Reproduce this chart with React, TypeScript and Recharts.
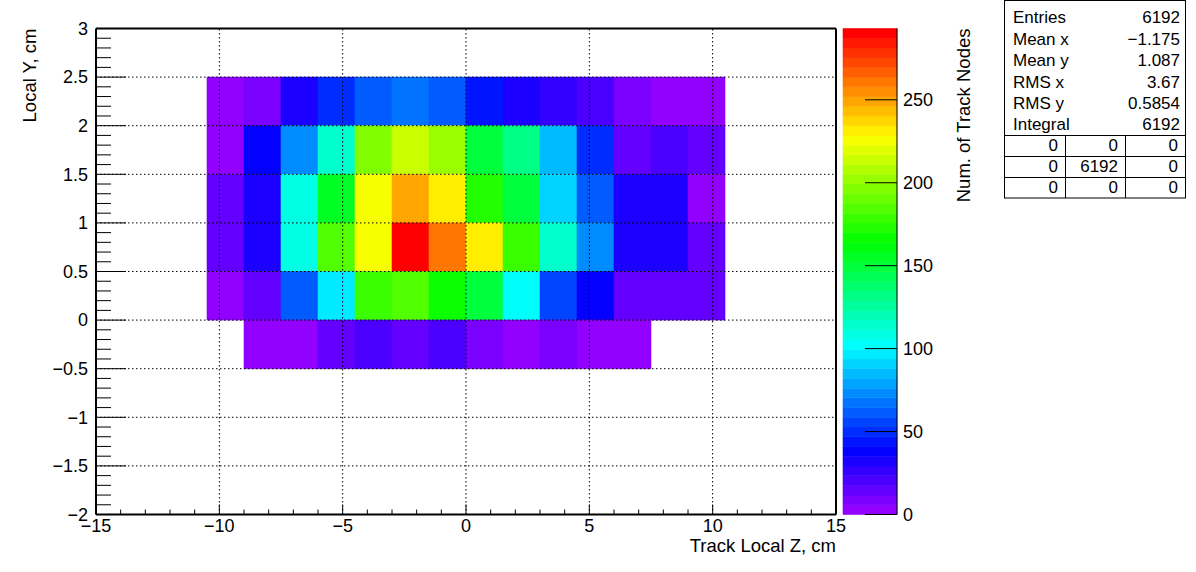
import React from 'react';
import { ComposedChart, XAxis, YAxis, ReferenceArea, ReferenceLine } from 'recharts';

const FONT = '"Liberation Sans", Arial, Helvetica, sans-serif';

// ---- histogram binning (Track Local Z vs Local Y) ----
const xBinLow = [-10.5, -9, -7.5, -6, -4.5, -3, -1.5, 0, 1.5, 3, 4.5, 6, 7.5, 9];
const xBinWidth = 1.5;
const yBinLow = [2, 1.5, 1, 0.5, 0, -0.5];
const yBinHeight = 0.5;

// ---- bin contents, one array per Local-Y row (null = empty bin) ----
const rowY2p0 = [3, 9, 32, 50, 62, 67, 62, 44, 32, 26, 21, 9, 3, 3];
const rowY1p5 = [3, 38, 73, 114, 197, 214, 202, 150, 132, 85, 50, 15, 21, 15];
const rowY1p0 = [15, 32, 109, 155, 226, 249, 232, 173, 150, 91, 62, 32, 32, 3];
const rowY0p5 = [15, 32, 109, 185, 226, 293, 261, 232, 179, 114, 73, 32, 32, 15];
const rowY0p0 = [3, 15, 62, 97, 179, 185, 167, 150, 103, 56, 38, 15, 15, 15];
const rowYm0p5 = [null, 3, 3, 15, 21, 15, 21, 9, 3, 9, 3, 3, null, null];
const rows = [rowY2p0, rowY1p5, rowY1p0, rowY0p5, rowY0p0, rowYm0p5];

// ---- axes ----
const xDomain = [-15, 15];
const yDomain = [-2, 3];
const xMajorTicks = [-15, -10, -5, 0, 5, 10, 15];
const yMajorTicks = [-2, -1.5, -1, -0.5, 0, 0.5, 1, 1.5, 2, 2.5, 3];
const zTicks = [0, 50, 100, 150, 200, 250];
const xMinorPerMajor = 5;
const yMinorPerMajor = 5;

// ---- stats box ----
const statLabels = ['Entries', 'Mean x', 'Mean y', 'RMS x', 'RMS y', 'Integral'];
const statValues = ['6192', '\u22121.175', '1.087', '3.67', '0.5854', '6192'];
const statTable = [
  ['0', '0', '0'],
  ['0', '6192', '0'],
  ['0', '0', '0'],
];

const xTitle = 'Track Local Z, cm';
const yTitle = 'Local Y, cm';
const zTitle = 'Num. of Track Nodes';

// ---- ROOT "pretty" palette (50 colours, hue 280 -> 0) ----
const NCOL = 50;
const paletteColor = (i: number) => `hsl(${280 - (i + 1) * (280 / NCOL)}, 100%, 50%)`;
const zMax = Math.max(...(rows.flat().filter((v) => v != null) as number[]));
const colorFor = (v: number) => paletteColor(Math.min(NCOL - 1, Math.floor(0.01 + (v / zMax) * NCOL)));

const subdivide = (majors: number[], n: number) => {
  const out: number[] = [];
  for (let i = 0; i < majors.length - 1; i++) {
    const a = majors[i];
    const b = majors[i + 1];
    for (let k = 0; k < n; k++) out.push(Math.round((a + ((b - a) * k) / n) * 1e6) / 1e6);
  }
  out.push(majors[majors.length - 1]);
  return out;
};
const xAllTicks = subdivide(xMajorTicks, xMinorPerMajor);
const yAllTicks = subdivide(yMajorTicks, yMinorPerMajor);

const isIn = (v: number, list: number[]) => list.some((m) => Math.abs(m - v) < 1e-6);
const fmt = (v: number) => String(Math.round(v * 100) / 100).replace('-', '\u2212');

const XTick = (props: any) => {
  const { x, y, payload } = props;
  const v = payload.value;
  const major = isIn(v, xMajorTicks);
  return (
    <g>
      <line x1={x} x2={x} y1={y} y2={y - (major ? 10 : 5)} stroke="#000" strokeWidth={1} />
      {major && (
        <text x={x} y={y + 17} textAnchor="middle" fontSize={18} fontFamily={FONT} fill="#000">
          {fmt(v)}
        </text>
      )}
    </g>
  );
};

const YTick = (props: any) => {
  const { x, y, payload } = props;
  const v = payload.value;
  const major = isIn(v, yMajorTicks);
  return (
    <g>
      <line x1={x} x2={x + (major ? 30 : 15)} y1={y} y2={y} stroke="#000" strokeWidth={1} />
      {major && (
        <text x={x - 8} y={y} dy="0.35em" textAnchor="end" fontSize={18} fontFamily={FONT} fill="#000">
          {fmt(v)}
        </text>
      )}
    </g>
  );
};

const ZTick = (props: any) => {
  const { x, y, payload } = props;
  return (
    <g>
      <line x1={x - 32} x2={x} y1={y} y2={y} stroke="#000" strokeWidth={1} />
      <text x={x + 6} y={y} dy="0.35em" textAnchor="start" fontSize={18} fontFamily={FONT} fill="#000">
        {fmt(payload.value)}
      </text>
    </g>
  );
};

const W = 1196;
const H = 572;
const PLOT_TOP = 28.5;
const PLOT_BOTTOM = 514.5;

export default function App() {
  const cells: React.ReactNode[] = [];
  rows.forEach((row, ri) =>
    row.forEach((v, ci) => {
      if (v == null || v <= 0) return;
      const c = colorFor(v);
      cells.push(
        <ReferenceArea
          key={`c-${ri}-${ci}`}
          x1={xBinLow[ci]}
          x2={xBinLow[ci] + xBinWidth}
          y1={yBinLow[ri]}
          y2={yBinLow[ri] + yBinHeight}
          fill={c}
          fillOpacity={1}
          stroke={c}
          strokeWidth={0.6}
        />
      );
    })
  );

  const bands: React.ReactNode[] = [];
  for (let k = 0; k < NCOL; k++) {
    const c = paletteColor(k);
    bands.push(
      <ReferenceArea
        key={`b-${k}`}
        x1={0}
        x2={1}
        y1={(k * zMax) / NCOL}
        y2={((k + 1) * zMax) / NCOL}
        fill={c}
        fillOpacity={1}
        stroke={c}
        strokeWidth={0.6}
        ifOverflow="visible"
      />
    );
  }

  const gridX = xMajorTicks.filter((v) => v > xDomain[0] && v < xDomain[1]);
  const gridY = yMajorTicks.filter((v) => v > yDomain[0] && v < yDomain[1]);

  const statRowH = 21.4;
  const boxL = 1004;
  const boxR = 1185;
  const tableTop = 135;
  const tableRowH = 21;
  const colEdges = [1004, 1065, 1125, 1185];
  const STAT_FS = 17;

  return (
    <div style={{ position: 'absolute', left: 0, top: 0, width: W, height: H, background: '#fff' }}>
      <div style={{ position: 'absolute', left: 0, top: 0 }}>
        <ComposedChart
          width={W}
          height={H}
          margin={{ top: PLOT_TOP, right: W - 836, bottom: H - PLOT_BOTTOM - 30, left: 96 - 60 }}
        >
          <XAxis
            type="number"
            dataKey="x"
            domain={xDomain}
            ticks={xAllTicks}
            interval={0}
            allowDataOverflow
            height={30}
            tickSize={0}
            tickMargin={0}
            tickLine={false}
            axisLine={{ stroke: '#000', strokeWidth: 2 }}
            tick={<XTick />}
          />
          <YAxis
            type="number"
            dataKey="y"
            domain={yDomain}
            ticks={yAllTicks}
            interval={0}
            allowDataOverflow
            width={60}
            tickSize={0}
            tickMargin={0}
            tickLine={false}
            axisLine={{ stroke: '#000', strokeWidth: 2 }}
            tick={<YTick />}
          />
          {cells}
          {gridX.map((v) => (
            <ReferenceLine key={`gx-${v}`} x={v} stroke="#000" strokeWidth={1} strokeDasharray="1.5 2.5" />
          ))}
          {gridY.map((v) => (
            <ReferenceLine key={`gy-${v}`} y={v} stroke="#000" strokeWidth={1} strokeDasharray="1.5 2.5" />
          ))}
          <ReferenceLine y={yDomain[1]} stroke="#000" strokeWidth={2} />
          <ReferenceLine x={xDomain[1]} stroke="#000" strokeWidth={2} />
        </ComposedChart>
      </div>
      <div style={{ position: 'absolute', left: 0, top: 0 }}>
        <ComposedChart
          width={W}
          height={H}
          margin={{ top: PLOT_TOP, right: W - 897 - 60, bottom: H - PLOT_BOTTOM - 30, left: 843 }}
        >
          <XAxis
            type="number"
            dataKey="u"
            domain={[0, 1]}
            ticks={[0, 1]}
            allowDataOverflow
            height={30}
            tick={false}
            axisLine={false}
            tickLine={false}
          />
          <YAxis
            type="number"
            dataKey="z"
            orientation="right"
            domain={[0, zMax]}
            ticks={zTicks}
            interval={0}
            allowDataOverflow
            width={60}
            tickSize={0}
            tickMargin={0}
            tickLine={false}
            axisLine={{ stroke: '#000', strokeWidth: 1 }}
            tick={<ZTick />}
          />
          {bands}
        </ComposedChart>
      </div>
      <svg
        width={W}
        height={H}
        style={{ position: 'absolute', left: 0, top: 0, pointerEvents: 'none' }}
        fontFamily={FONT}
      >
        <text x={836} y={552} textAnchor="end" fontSize={18.5} fill="#000">
          {xTitle}
        </text>
        <text transform={`translate(36, ${PLOT_TOP}) rotate(-90)`} textAnchor="end" fontSize={18.5} fill="#000">
          {yTitle}
        </text>
        <text transform={`translate(970, ${PLOT_TOP}) rotate(-90)`} textAnchor="end" fontSize={18.5} fill="#000">
          {zTitle}
        </text>
        <rect x={boxL + 0.5} y={0.5} width={boxR - boxL} height={tableTop + 3 * tableRowH - 0.5} fill="#fff" stroke="#000" strokeWidth={1} />
        {statLabels.map((l, i) => (
          <g key={`s-${i}`}>
            <text x={1013} y={17.5 + i * statRowH} dy="0.35em" fontSize={STAT_FS} fill="#000">
              {l}
            </text>
            <text x={1180} y={17.5 + i * statRowH} dy="0.35em" textAnchor="end" fontSize={STAT_FS} fill="#000">
              {statValues[i]}
            </text>
          </g>
        ))}
        {[0, 1, 2].map((r) => (
          <line key={`tl-${r}`} x1={boxL} x2={boxR} y1={tableTop + r * tableRowH + 0.5} y2={tableTop + r * tableRowH + 0.5} stroke="#000" />
        ))}
        {[1, 2].map((c) => (
          <line key={`tc-${c}`} x1={colEdges[c] + 0.5} x2={colEdges[c] + 0.5} y1={tableTop} y2={tableTop + 3 * tableRowH} stroke="#000" />
        ))}
        {statTable.map((row, r) =>
          row.map((t, c) => (
            <text
              key={`t-${r}-${c}`}
              x={colEdges[c + 1] - 7}
              y={tableTop + r * tableRowH + tableRowH / 2}
              dy="0.35em"
              textAnchor="end"
              fontSize={STAT_FS}
              fill="#000"
            >
              {t}
            </text>
          ))
        )}
      </svg>
    </div>
  );
}
